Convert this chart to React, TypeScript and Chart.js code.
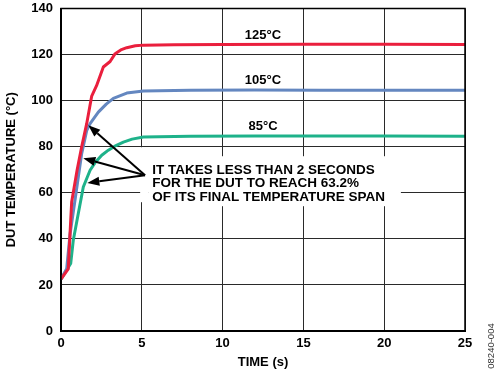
import React, { useEffect, useRef } from "react";
import { Chart, registerables } from "chart.js";

Chart.register(...registerables);

// ---- data ----
const redTime = [0, 0.45, 0.6, 0.66, 1.0, 1.28, 1.59, 1.9, 2.2, 2.62, 3.04, 3.35, 3.7, 4.07, 4.6, 5.1, 7, 10, 15, 20, 25];
const redTemp = [22.5, 27, 48, 56, 70, 80, 90, 102, 106.5, 114.6, 117, 120.4, 122, 123, 123.8, 124.1, 124.3, 124.4, 124.5, 124.5, 124.4];

const blueTime = [0, 0.35, 0.56, 0.87, 1.28, 1.59, 1.8, 2.31, 2.8, 3.24, 4.07, 5.1, 8, 12, 16, 20, 25];
const blueTemp = [22.5, 27, 42, 57, 77, 87, 90, 95, 98.5, 101, 103.3, 104.2, 104.5, 104.6, 104.5, 104.5, 104.5];

const greenTime = [0, 0.6, 0.76, 1.07, 1.38, 1.8, 2.1, 2.52, 2.93, 3.4, 3.86, 4.4, 5.1, 8, 12, 16, 20, 25];
const greenTemp = [22.5, 29.3, 39.4, 51, 62.5, 69.8, 73, 76.3, 78.5, 80.5, 82, 83.3, 84.2, 84.5, 84.6, 84.6, 84.6, 84.5];

const seriesNames = ["125°C", "105°C", "85°C"];
const seriesColors = ["#ea1f3d", "#6487c0", "#1eb28a"];
const seriesLabelTime = [12.5, 12.5, 12.5];
const seriesLabelTemp = [128.3, 108.8, 88.9];

const noteLines = [
  "IT TAKES LESS THAN 2 SECONDS",
  "FOR THE DUT TO REACH 63.2%",
  "OF ITS FINAL TEMPERATURE SPAN",
];
const noteAnchor = { t: 5.64, temp: 69.8 };
const arrowOrigin = { t: 5.2, temp: 67.6 };
const arrowTipsTime = [1.69, 1.38, 1.63];
const arrowTipsTemp = [89.3, 75, 64.3];

const xTicks = [0, 5, 10, 15, 20, 25];
const yTicks = [0, 20, 40, 60, 80, 100, 120, 140];
const figureCode = "08240-004";

const FONT = "'Liberation Sans', Arial, sans-serif";

function toPoints(t: number[], v: number[]) {
  return t.map((x, i) => ({ x, y: v[i] }));
}

const annotationPlugin = {
  id: "annot",
  beforeDatasetsDraw(chart: any) {
    const { ctx, scales } = chart;
    const x = scales.x, y = scales.y;
    const ax = x.getPixelForValue(noteAnchor.t);
    const ay = y.getPixelForValue(noteAnchor.temp);
    ctx.save();
    ctx.font = `bold 13.5px ${FONT}`;
    let w = 0;
    noteLines.forEach((l) => (w = Math.max(w, ctx.measureText(l).width)));
    ctx.fillStyle = "#fff";
    ctx.fillRect(ax - 4, ay - 14, w + 20, 50);
    ctx.fillRect(ax - 12, ay - 23, 8, 55);
    ctx.restore();
  },
  afterDatasetsDraw(chart: any) {
    const { ctx, scales } = chart;
    const x = scales.x, y = scales.y;
    ctx.save();
    // series labels
    ctx.font = `bold 13px ${FONT}`;
    ctx.fillStyle = "#000";
    ctx.textAlign = "center";
    ctx.textBaseline = "middle";
    seriesNames.forEach((n, i) => {
      ctx.fillText(n, x.getPixelForValue(seriesLabelTime[i]), y.getPixelForValue(seriesLabelTemp[i]));
    });
    // note text
    const ax = x.getPixelForValue(noteAnchor.t);
    const ay = y.getPixelForValue(noteAnchor.temp);
    ctx.font = `bold 13.5px ${FONT}`;
    ctx.textAlign = "left";
    noteLines.forEach((l, i) => ctx.fillText(l, ax, ay + i * 13.3));
    // arrows
    const ox = x.getPixelForValue(arrowOrigin.t);
    const oy = y.getPixelForValue(arrowOrigin.temp);
    ctx.strokeStyle = "#000";
    ctx.fillStyle = "#000";
    ctx.lineWidth = 2;
    arrowTipsTime.forEach((tt, i) => {
      const tx = x.getPixelForValue(tt);
      const ty = y.getPixelForValue(arrowTipsTemp[i]);
      const ang = Math.atan2(ty - oy, tx - ox);
      const L = 12, H = 4.5;
      const bx = tx - L * Math.cos(ang), by = ty - L * Math.sin(ang);
      ctx.beginPath();
      ctx.moveTo(ox, oy);
      ctx.lineTo(bx, by);
      ctx.stroke();
      ctx.beginPath();
      ctx.moveTo(tx, ty);
      ctx.lineTo(bx + H * Math.sin(ang), by - H * Math.cos(ang));
      ctx.lineTo(bx - H * Math.sin(ang), by + H * Math.cos(ang));
      ctx.closePath();
      ctx.fill();
    });
    // figure code
    ctx.font = `9.5px ${FONT}`;
    ctx.fillStyle = "#333";
    ctx.textAlign = "center";
    ctx.translate(491, 346);
    ctx.rotate(-Math.PI / 2);
    ctx.fillText(figureCode, 0, 0);
    ctx.restore();
  },
};

export default function App() {
  const ref = useRef<HTMLCanvasElement>(null);
  useEffect(() => {
    if (!ref.current) return;
    const tickFont = { family: FONT, size: 13, weight: "bold" as const };
    const chart = new Chart(ref.current, {
      type: "line",
      data: {
        datasets: [
          { label: seriesNames[0], data: toPoints(redTime, redTemp), borderColor: seriesColors[0] },
          { label: seriesNames[1], data: toPoints(blueTime, blueTemp), borderColor: seriesColors[1] },
          { label: seriesNames[2], data: toPoints(greenTime, greenTemp), borderColor: seriesColors[2] },
        ].map((d) => ({ ...d, borderWidth: 3, pointRadius: 0, tension: 0, fill: false, borderJoinStyle: "round" as const })),
      },
      options: {
        responsive: false,
        animation: false,
        layout: { padding: { left: 0, top: 8.5, right: 35, bottom: 0 } },
        plugins: { legend: { display: false }, tooltip: { enabled: false } },
        scales: {
          x: {
            type: "linear",
            min: 0,
            max: 25,
            afterBuildTicks: (s: any) => { s.ticks = xTicks.map((v) => ({ value: v })); },
            afterFit: (s: any) => { s.height = 44; s.paddingLeft = 0; s.paddingRight = 0; },
            ticks: { font: tickFont, color: "#000", padding: 5, maxRotation: 0 },
            grid: { color: "#2a2a2a", lineWidth: 1, drawTicks: false },
            border: { display: true, color: "#000", width: 2 },
            title: { display: true, text: "TIME (s)", font: tickFont, color: "#000", padding: { top: 0, bottom: 5 } },
          },
          y: {
            type: "linear",
            min: 0,
            max: 140,
            afterBuildTicks: (s: any) => { s.ticks = yTicks.map((v) => ({ value: v })); },
            afterFit: (s: any) => { s.width = 61; s.paddingTop = 0; s.paddingBottom = 0; },
            ticks: { font: tickFont, color: "#000", padding: 8 },
            grid: { color: "#2a2a2a", lineWidth: 1, drawTicks: false },
            border: { display: true, color: "#000", width: 2 },
            title: { display: true, text: "DUT TEMPERATURE (°C)", font: tickFont, color: "#000", padding: { top: 4, bottom: 0 } },
          },
        } as any,
      },
      plugins: [annotationPlugin, {
        id: "frame",
        afterDraw(c: any) {
          const a = c.chartArea;
          c.ctx.save();
          c.ctx.strokeStyle = "#000";
          c.ctx.lineWidth = 1.5;
          c.ctx.strokeRect(a.left, a.top, a.right - a.left, a.bottom - a.top);
          c.ctx.restore();
        },
      }],
    });
    return () => chart.destroy();
  }, []);
  return (
    <div style={{ position: "absolute", left: 0, top: 0, width: 500, height: 375, background: "#fff" }}>
      <canvas ref={ref} width={500} height={375} style={{ width: 500, height: 375 }} />
    </div>
  );
}
